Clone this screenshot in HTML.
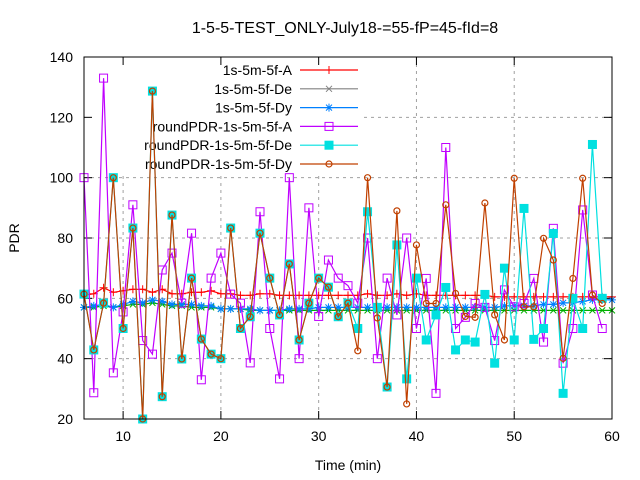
<!DOCTYPE html>
<html><head><meta charset="utf-8"><style>
html,body{margin:0;padding:0;background:#fff;}
svg{display:block;font-family:"Liberation Sans",sans-serif;}
</style></head><body>
<svg id="chart" width="640" height="480" viewBox="0 0 640 480"></svg>
<script>
const minutesLine = [6,7,8,9,10,11,12,13,14,15,16,17,18,19,20,21,22,23,24,25,26,27,28,29,30,31,32,33,34,35,36,37,38,39,40,41,42,43,44,45,46,47,48,49,50,51,52,53,54,55,56,57,58,59,60];
const seriesA = [61,61.5,63.5,62,62.5,63,63,62,63,61.5,61.5,62,62,62.5,61.5,61.5,61,61,61.5,61.5,61,61,61,61,61,61,61,61,61,61.5,61,61,61.5,61,61.5,61,61,61,61,61,61,61,60.5,60.5,60.5,60.5,60.5,60.5,60.5,60.5,60.5,60.5,60.5,60.5,60.5];
const seriesDe = [57,57,57.5,57,57.5,58,58,58.5,58,57.5,57.5,57,57,57,56.5,56.5,56.5,56,56,56,56,56,56,56,56,56,56,56,56,56,56,56,56,56,56,56,56,56,56,56,56,56,56,56,56,56,56,56,56,56,56,56,56,56,56];
const seriesDy = [57,57.5,58,57,58,59,58.5,59.5,59,58,58,58,57.5,57.5,56.5,56.5,56.5,56.5,56,56,56,56.5,56.5,56.5,57,57,57,57,57,57,57,57,57,57,57,57,57,57,57,57,57,57,57,57.5,57.5,57.5,57.5,58,58,58.5,58.5,59,59.5,59.5,59.5];
const minutesRound = [6,7,8,9,10,11,12,13,14,15,16,17,18,19,20,21,22,23,24,25,26,27,28,29,30,31,32,33,34,35,36,37,38,39,40,41,42,43,44,45,46,47,48,49,50,51,52,53,54,55,56,57,58,59];
const roundA = [100,28.7,133,35.3,55.5,91,46,41.5,69.4,75,58.4,81.6,33,66.7,75,61.4,58.4,38.6,88.7,50,33.3,100,40,90,54,72.7,66.7,64.2,58.4,80,40,66.7,54.5,80,50,66.6,28.5,110,50,53.7,58.3,57,46,62.8,57.2,58.3,66.6,45.5,83.2,38.5,50,89.3,61.1,50];
const roundDe = [61.4,42.9,58.4,100,50,83.3,20,128.7,27.4,87.6,39.9,66.7,46.5,41.5,40,83.3,50,53.9,81.6,66.7,54.5,71.4,46.2,58.4,66.7,63.7,53.9,58.4,50,88.7,57,30.6,77.7,33.3,66.7,46.2,54.5,63.6,42.9,46.2,45.5,61.3,38.5,70,46.2,89.8,46.4,50,81.5,28.5,60,50,111,60];
const roundDy = [61.4,42.9,58.4,100,50,83.3,20,128.7,27.4,87.6,39.9,66.7,46.5,41.5,40,83.3,50,53.9,81.6,66.7,54.5,71.4,46.2,58.4,66.7,63.7,53.9,58.4,42.6,100,53.5,30.6,89,25,77.7,58.3,58.3,91,61.6,54,53.7,91.6,54.5,46.2,99.8,57.2,57.2,79.9,72.7,40.1,66.6,99.8,61.1,58.3];
const yTicks = [20,40,60,80,100,120,140];
const xTicks = [10,20,30,40,50,60];

const NS="http://www.w3.org/2000/svg";
const svg=document.getElementById('chart');
const L=84,R=612,T=57,B=419;
const xs=v=>L+(v-6)/(60-6)*(R-L);
const ys=v=>B-(v-20)/(140-20)*(B-T);
function mk(tag,attrs,parent){const e=document.createElementNS(NS,tag);for(const k in attrs)e.setAttribute(k,attrs[k]);(parent||svg).appendChild(e);return e;}

// grid
const grid=mk('g',{});


yTicks.forEach(v=>{if(v>20&&v<140){const l=mk('line',{x1:L,x2:R,y1:ys(v),y2:ys(v),stroke:'#a0a0a0','stroke-dasharray':'3,4','stroke-width':1},grid);}});
xTicks.forEach(v=>{if(v<60){const l=mk('line',{x1:xs(v),x2:xs(v),y1:T,y2:B,stroke:'#a0a0a0','stroke-dasharray':'3,4','stroke-width':1},grid);}});

function marker(type,x,y,color,g){
  if(type==='plus'){mk('path',{d:`M${x-4} ${y}H${x+4}M${x} ${y-4}V${y+4}`,stroke:color,fill:'none'},g);}
  else if(type==='x'){mk('path',{d:`M${x-3} ${y-3}L${x+3} ${y+3}M${x-3} ${y+3}L${x+3} ${y-3}`,stroke:color,fill:'none'},g);}
  else if(type==='star'){mk('path',{d:`M${x-4} ${y}H${x+4}M${x} ${y-4}V${y+4}M${x-3} ${y-3}L${x+3} ${y+3}M${x-3} ${y+3}L${x+3} ${y-3}`,stroke:color,fill:'none'},g);}
  else if(type==='osq'){mk('rect',{x:x-4,y:y-4,width:8,height:8,stroke:color,fill:'none'},g);}
  else if(type==='fsq'){mk('rect',{x:x-4.5,y:y-4.5,width:9,height:9,fill:color},g);}
  else if(type==='ocirc'){mk('circle',{cx:x,cy:y,r:3,stroke:color,fill:'none','stroke-width':1.2},g);}
}

// legend (behind data)
const lg=mk('g',{});


mk('rect',{x:L+1,y:T+1,width:275,height:115,fill:'#fff'},lg);
const legItems=[['1s-5m-5f-A','#ff0000','plus'],['1s-5m-5f-De','#808080','x'],['1s-5m-5f-Dy','#0080ff','star'],['roundPDR-1s-5m-5f-A','#c000ff','osq'],['roundPDR-1s-5m-5f-De','#00e0e0','fsq'],['roundPDR-1s-5m-5f-Dy','#c04000','ocirc']];
legItems.forEach((it,i)=>{
  const y=70+i*18.8;
  const e=mk('g',{},lg);
  
  
  const t=mk('text',{x:292,y:y+5,'text-anchor':'end','font-size':14,fill:'#000'},e);t.textContent=it[0];
  mk('line',{x1:300,x2:358,y1:y,y2:y,stroke:it[1],'stroke-width':1.2},e);
  marker(it[2],329,y,it[1],e);
});

// ticks and labels
yTicks.forEach(v=>{
  mk('line',{x1:L,x2:L+8,y1:ys(v),y2:ys(v),stroke:'#000'});
  mk('line',{x1:R,x2:R-8,y1:ys(v),y2:ys(v),stroke:'#000'});
  const t=mk('text',{x:73,y:ys(v)+5,'text-anchor':'end','font-size':14,fill:'#000'});t.textContent=v;
  
  
});
xTicks.forEach(v=>{
  mk('line',{x1:xs(v),x2:xs(v),y1:B,y2:B-8,stroke:'#000'});
  mk('line',{x1:xs(v),x2:xs(v),y1:T,y2:T+8,stroke:'#000'});
  const t=mk('text',{x:xs(v),y:441,'text-anchor':'middle','font-size':14,fill:'#000'});t.textContent=v;
  
  
});

function series(name,xsArr,vals,color,type){
  const g=mk('g',{});
  
  
  const pts=vals.map((v,i)=>xs(xsArr[i]).toFixed(1)+','+ys(v).toFixed(1)).join(' ');
  mk('polyline',{points:pts,fill:'none',stroke:color,'stroke-width':1.2},g);
  vals.forEach((v,i)=>marker(type,xs(xsArr[i]),ys(v),color,g));
}
series('series-1s-5m-5f-de',minutesLine,seriesDe,'#00b000','x');
series('series-1s-5m-5f-dy',minutesLine,seriesDy,'#0080ff','star');
series('series-1s-5m-5f-a',minutesLine,seriesA,'#ff0000','plus');
series('series-roundpdr-a',minutesRound,roundA,'#c000ff','osq');
series('series-roundpdr-de',minutesRound,roundDe,'#00e0e0','fsq');
series('series-roundpdr-dy',minutesRound,roundDy,'#c04000','ocirc');

// frame
const fr=mk('rect',{x:L,y:T,width:R-L,height:B-T,fill:'none',stroke:'#000','stroke-width':1});



const title=mk('text',{x:345,y:33,'text-anchor':'middle','font-size':16,fill:'#000'});
title.textContent='1-5-5-TEST_ONLY-July18-=55-fP=45-fId=8';


const xl=mk('text',{x:348,y:470,'text-anchor':'middle','font-size':14,fill:'#000'});
xl.textContent='Time (min)';


const yl=mk('text',{x:19,y:238,'text-anchor':'middle','font-size':14,fill:'#000',transform:'rotate(-90 19 238)'});
yl.textContent='PDR';


</script>
</body></html>
